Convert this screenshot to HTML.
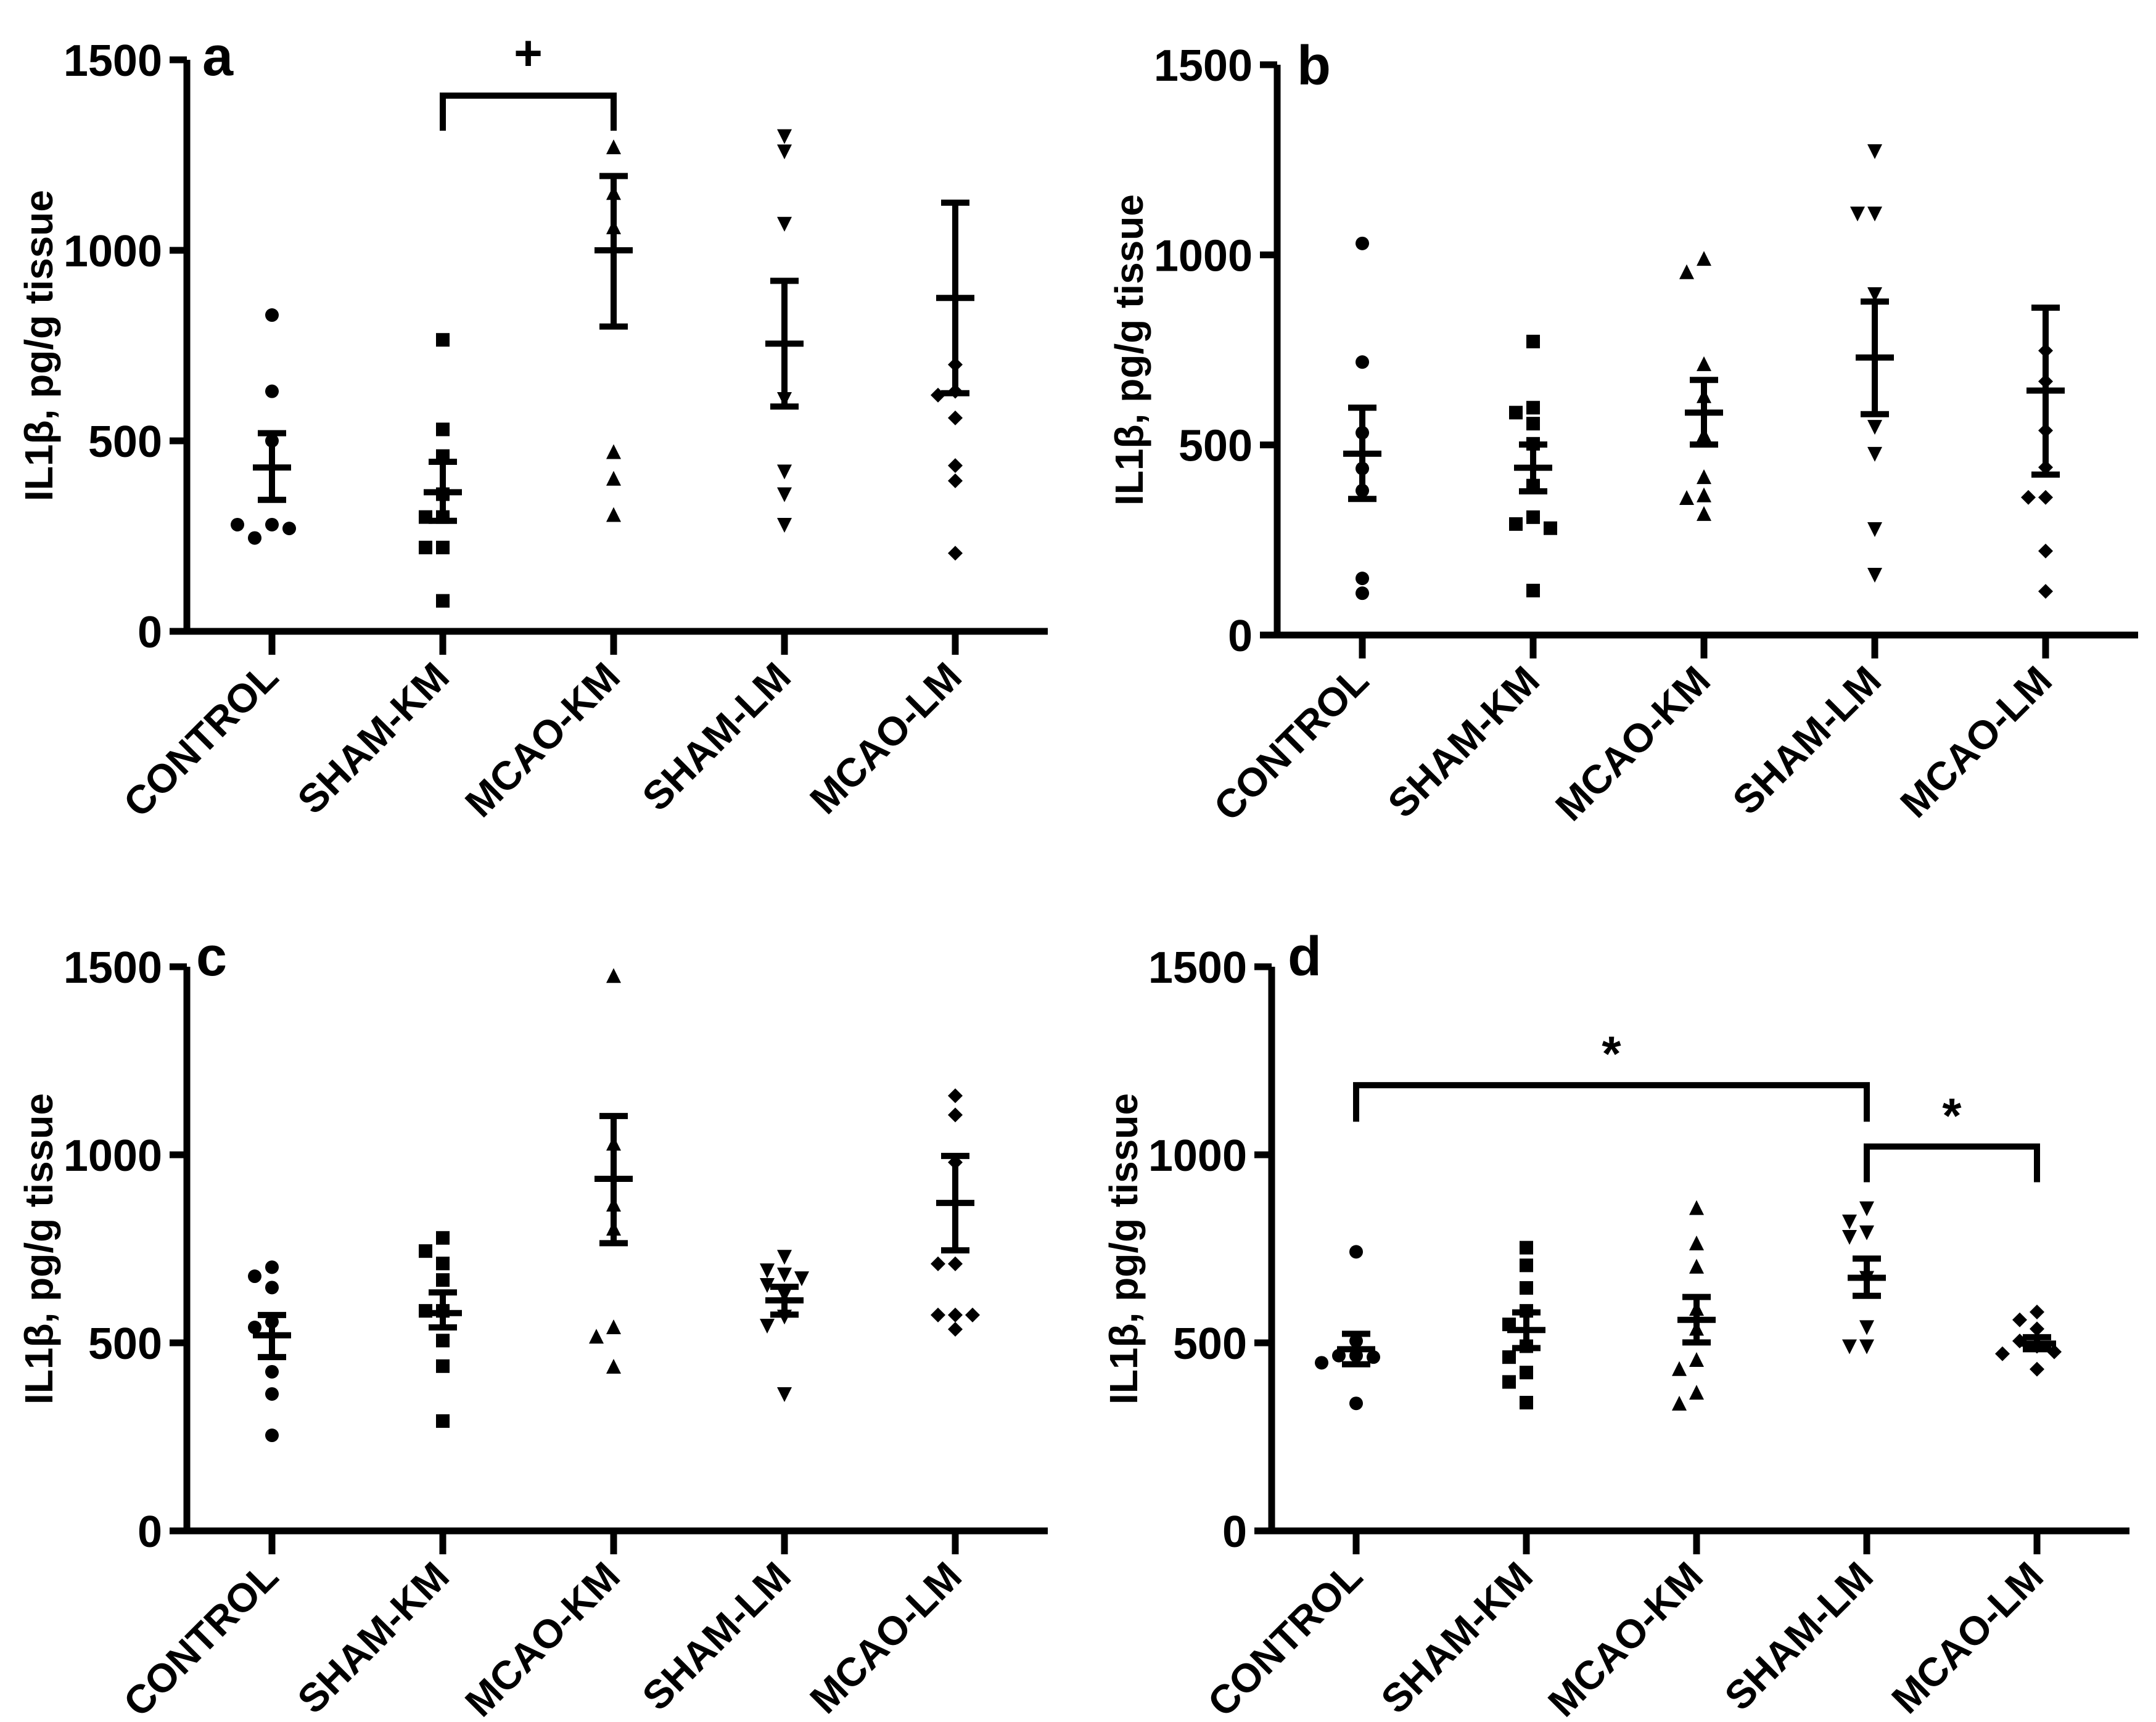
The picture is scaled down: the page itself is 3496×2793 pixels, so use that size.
<!DOCTYPE html>
<html><head><meta charset="utf-8"><style>
html,body{margin:0;padding:0;background:#fff;}
svg{display:block;font-family:"Liberation Sans",Arial,sans-serif;font-weight:bold;}
</style></head><body>
<svg id="fig" xmlns="http://www.w3.org/2000/svg" width="3496" height="2793" viewBox="0 0 3496 2793"></svg>
<script>
const categories = ["CONTROL","SHAM-KM","MCAO-KM","SHAM-LM","MCAO-LM"];
const yTicks = [0,500,1000,1500];
const yTickLabels = ["0","500","1000","1500"];

const aValues = [
  [830,630,500,280,245,270,280],
  [765,530,460,360,300,300,220,220,80],
  [1270,1150,1060,470,400,305],
  [1300,1260,1070,610,420,360,280],
  [700,630,620,560,435,395,205]
];
const aMean = [430,365,1000,755,875];
const aSemHi = [520,445,1195,920,1125];
const aSemLo = [345,290,800,590,625];

const bValues = [
  [1030,718,532,438,380,149,110],
  [772,598,585,556,503,393,310,292,281,117],
  [989,954,712,628,526,415,367,360,318],
  [1273,1109,1109,897,548,477,279,159],
  [748,667,538,441,362,362,221,115]
];
const bMean = [477,440,585,730,643];
const bSemHi = [598,501,671,877,861];
const bSemLo = [358,378,501,581,422];

const cValues = [
  [701,677,647,556,541,423,364,254],
  [779,744,711,667,585,585,506,438,292],
  [1475,1029,867,803,541,516,436],
  [729,693,682,672,654,628,570,546,364],
  [1157,1106,980,710,710,574,574,574,536]
];
const cMean = [520,579,936,613,872];
const cSemHi = [574,634,1103,649,997];
const cSemLo = [462,541,765,575,746];

const dValues = [
  [742,505,466,466,462,447,339],
  [753,706,646,585,549,491,462,421,396,341],
  [858,764,702,590,537,454,430,367,338],
  [858,823,794,782,673,542,491,491],
  [582,561,537,505,491,476,471,430]
];
const dMean = [483,534,561,673,498];
const dSemHi = [524,581,622,724,515];
const dSemLo = [443,486,501,625,483];

const NS="http://www.w3.org/2000/svg";
const svg=document.getElementById('fig');
function mk(tag,attrs,parent){const e=document.createElementNS(NS,tag);for(const k in attrs)e.setAttribute(k,attrs[k]);(parent||svg).appendChild(e);return e;}

const panels=[
  {id:'a',ax:303,y0:1024,y1:97,cat0:441,step:277,vals:aValues,mean:aMean,hi:aSemHi,lo:aSemLo,lx:328,ly:122,
   sig:[{from:1,to:2,top:1406,drop:1314,label:'+',ly:1519}]},
  {id:'b',ax:2071,y0:1030,y1:105,cat0:2209,step:277,vals:bValues,mean:bMean,hi:bSemHi,lo:bSemLo,lx:2103,ly:137,sig:[]},
  {id:'c',ax:303,y0:2483,y1:1568,cat0:441,step:277,vals:cValues,mean:cMean,hi:cSemHi,lo:cSemLo,lx:318,ly:1582,sig:[]},
  {id:'d',ax:2062,y0:2483,y1:1568,cat0:2199,step:276,vals:dValues,mean:dMean,hi:dSemHi,lo:dSemLo,lx:2088,ly:1582,
   sig:[{from:0,to:3,top:1185,drop:1088,label:'*',ly:1270},{from:3,to:4,top:1022,drop:927,label:'*',ly:1105}]}
];
const shapes=['circle','square','triUp','triDown','diamond'];

function marker(g,shape,x,y){
  const s=11;
  let e;
  if(shape==='circle') e=mk('circle',{cx:x,cy:y,r:s},g);
  else if(shape==='square') e=mk('rect',{x:x-s,y:y-s,width:2*s,height:2*s},g);
  else if(shape==='triUp') e=mk('polygon',{points:`${x},${y-s-2} ${x+s+1},${y+s} ${x-s-1},${y+s}`},g);
  else if(shape==='triDown') e=mk('polygon',{points:`${x},${y+s+2} ${x+s+1},${y-s} ${x-s-1},${y-s}`},g);
  else e=mk('polygon',{points:`${x},${y-s-1} ${x+s+1},${y} ${x},${y+s+1} ${x-s-1},${y}`},g);
  
  
  e.setAttribute('fill','#000');
}

panels.forEach(p=>{
  const g=mk('g',{});
  
  
  const Y=v=>p.y0-(v/1500)*(p.y0-p.y1);
  const X=i=>p.cat0+i*p.step;
  const xEnd=X(4)+150;
  let e=mk('line',{x1:p.ax,y1:p.y1,x2:p.ax,y2:p.y0+5.5,stroke:'#000','stroke-width':11},g);
  
  e=mk('line',{x1:p.ax-28,y1:p.y0,x2:xEnd,y2:p.y0,stroke:'#000','stroke-width':11},g);
  
  yTicks.forEach((t,i)=>{
    const y=Y(t);
    mk('line',{x1:p.ax-28,y1:y,x2:p.ax,y2:y,stroke:'#000','stroke-width':11},g);
    const tx=mk('text',{x:p.ax-40,y:y+26,'text-anchor':'end','font-size':72},g);
    
    tx.textContent=yTickLabels[i];
  });
  categories.forEach((c,i)=>{
    const x=X(i);
    mk('line',{x1:x,y1:p.y0,x2:x,y2:p.y0+38,stroke:'#000','stroke-width':11},g);
    const tx=mk('text',{x:x+14,y:p.y0+78,'text-anchor':'end','font-size':65,transform:`rotate(-45 ${x+14} ${p.y0+78})`},g);
    
    tx.textContent=c;
  });
  const cy=(p.y0+p.y1)/2, cx=p.ax-218;
  const yt=mk('text',{x:cx,y:cy,'text-anchor':'middle','font-size':64,transform:`rotate(-90 ${cx} ${cy})`},g);
  
  yt.textContent='IL1β, pg/g tissue';
  const pl=mk('text',{x:p.lx,y:p.ly,'font-size':90},g);
  
  pl.textContent=p.id;
  p.vals.forEach((arr,i)=>{
    const placed=[];
    arr.forEach(v=>{
      const y=Y(v);
      const offs=[0,-28,28,-56,56,-84,84];
      let off=0;
      for(const o of offs){
        if(!placed.some(q=>Math.abs(q.y-y)<22&&Math.abs(q.o-o)<24)){off=o;break;}
      }
      placed.push({y:y,o:off});
      marker(g,shapes[i],X(i)+off,y);
    });
    const x=X(i);
    const sg=mk('g',{stroke:'#000','stroke-width':10,fill:'none'},g);
    
    mk('line',{x1:x,y1:Y(p.hi[i]),x2:x,y2:Y(p.lo[i])},sg);
    mk('line',{x1:x-23,y1:Y(p.hi[i]),x2:x+23,y2:Y(p.hi[i])},sg);
    mk('line',{x1:x-23,y1:Y(p.lo[i]),x2:x+23,y2:Y(p.lo[i])},sg);
    mk('line',{x1:x-31,y1:Y(p.mean[i]),x2:x+31,y2:Y(p.mean[i])},sg);
  });
  p.sig.forEach(s=>{
    const x1=X(s.from),x2=X(s.to);
    const b=mk('polyline',{points:`${x1},${Y(s.drop)} ${x1},${Y(s.top)} ${x2},${Y(s.top)} ${x2},${Y(s.drop)}`,fill:'none',stroke:'#000','stroke-width':10},g);
    
    const t=mk('text',{x:(x1+x2)/2,y:Y(s.ly)+28,'text-anchor':'middle','font-size':80},g);
    
    t.textContent=s.label;
  });
});
</script>
</body></html>
